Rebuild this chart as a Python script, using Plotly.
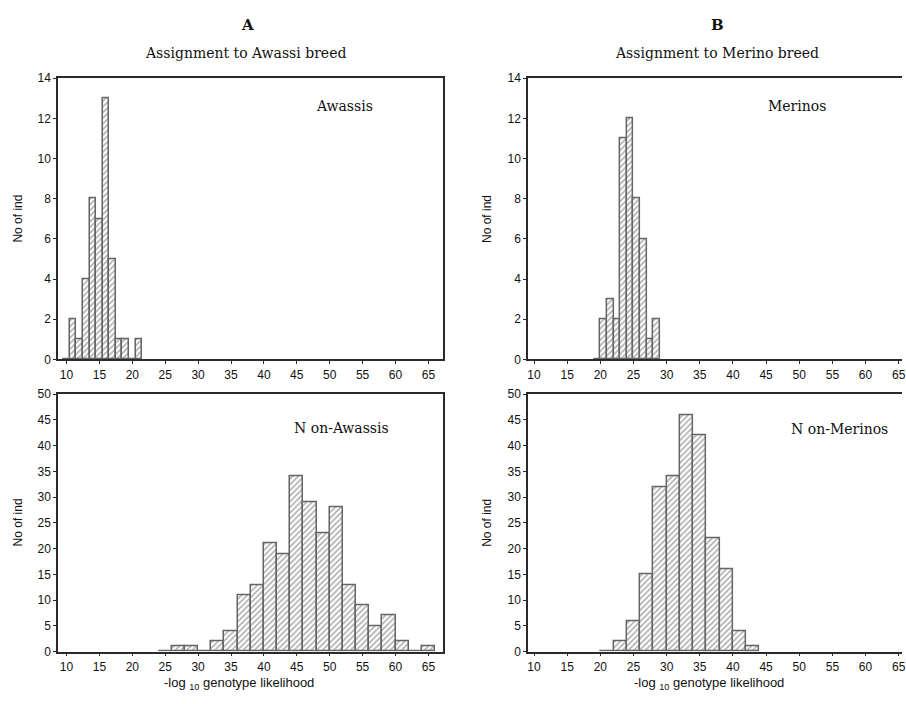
import plotly.graph_objects as go

# ---- data ----
awassi_bins = [10, 11, 12, 13, 14, 15, 16, 17, 18, 19, 20, 21]
awassi_counts = [0, 2, 1, 4, 8, 7, 13, 5, 1, 1, 0, 1]

merino_bins = [19.5, 20.5, 21.5, 22.5, 23.5, 24.5, 25.5, 26.5, 27.5, 28.5]
merino_counts = [0, 2, 3, 2, 11, 12, 8, 6, 1, 2]

non_awassi_bins = [25, 27, 29, 31, 33, 35, 37, 39, 41, 43, 45, 47, 49, 51, 53, 55, 57, 59, 61, 63, 65]
non_awassi_counts = [0, 1, 1, 0, 2, 4, 11, 13, 21, 19, 34, 29, 23, 28, 13, 9, 5, 7, 2, 0, 1]

non_merino_bins = [21, 23, 25, 27, 29, 31, 33, 35, 37, 39, 41, 43]
non_merino_counts = [0, 2, 6, 15, 32, 34, 46, 42, 22, 16, 4, 1]

x_ticks = [10, 15, 20, 25, 30, 35, 40, 45, 50, 55, 60, 65]
top_y_ticks = [0, 2, 4, 6, 8, 10, 12, 14]
bottom_y_ticks = [0, 5, 10, 15, 20, 25, 30, 35, 40, 45, 50]

W, H = 906, 704
FRAME = "#2a2a2a"
BAR_LINE = "#656565"
SANS = "Liberation Sans, Arial, sans-serif"
SERIF = "DejaVu Serif, serif"


def bar(x, y, width, xa, ya):
    return go.Bar(
        x=x, y=y, width=width, xaxis=xa, yaxis=ya,
        marker=dict(
            color="white",
            line=dict(color=BAR_LINE, width=1.5),
            pattern=dict(shape="/", fgcolor="#5a5a5a", bgcolor="white",
                         size=4, solidity=0.38),
        ),
        showlegend=False, hoverinfo="skip",
    )


fig = go.Figure()
fig.add_trace(bar(awassi_bins, awassi_counts, 1, "x", "y"))
fig.add_trace(bar(merino_bins, merino_counts, 1, "x2", "y2"))
fig.add_trace(bar(non_awassi_bins, non_awassi_counts, 2, "x3", "y3"))
fig.add_trace(bar(non_merino_bins, non_merino_counts, 2, "x4", "y4"))


def px_x(p):
    return p / W


def px_y(p):
    return 1 - p / H


left_dom = [px_x(57.3), px_x(444.3)]
right_dom = [px_x(530), 1.0]
top_dom = [px_y(359.5), px_y(72.7)]
bot_dom = [px_y(657.7), px_y(395)]

tickfont = dict(family=SANS, size=12, color="#111")


def xax(dom, rng, anchor, mirror):
    return dict(domain=dom, range=rng, anchor=anchor, tickvals=x_ticks,
                ticks="outside", ticklen=3, tickcolor=FRAME,
                showline=True, linecolor=FRAME, linewidth=1.5, mirror=mirror,
                showgrid=False, zeroline=False, tickfont=tickfont,
                ticklabeloverflow="allow", fixedrange=True)


def yax(dom, rng, vals, anchor, mirror):
    return dict(domain=dom, range=rng, anchor=anchor, tickvals=vals,
                ticks="outside", ticklen=3, tickcolor=FRAME,
                showline=True, linecolor=FRAME, linewidth=1.5, mirror=mirror,
                showgrid=False, zeroline=False, tickfont=tickfont,
                ticklabeloverflow="allow", fixedrange=True)


left_rng = [8.7, 67.2]
right_rng = [9.1, 65.5]

fig.update_layout(
    width=W, height=H,
    margin=dict(l=0, r=0, t=0, b=0),
    paper_bgcolor="white", plot_bgcolor="white",
    bargap=0,
    xaxis=xax(left_dom, left_rng, "y", True),
    yaxis=yax(top_dom, [0, 14], top_y_ticks, "x", True),
    xaxis2=xax(right_dom, right_rng, "y2", True),
    yaxis2=yax(top_dom, [0, 14], top_y_ticks, "x2", False),
    xaxis3=xax(left_dom, left_rng, "y3", True),
    yaxis3=yax(bot_dom, [0, 50], bottom_y_ticks, "x3", True),
    xaxis4=xax(right_dom, right_rng, "y4", True),
    yaxis4=yax(bot_dom, [0, 50], bottom_y_ticks, "x4", False),
)


def ann(text, x, y, size, family, bold=False, angle=0, color="#111"):
    if bold:
        text = "<b>" + text + "</b>"
    fig.add_annotation(text=text, x=px_x(x), y=px_y(y), xref="paper", yref="paper",
                       showarrow=False, xanchor="center", yanchor="middle",
                       textangle=angle,
                       font=dict(family=family, size=size, color=color))


ann("A", 248, 18, 15, SERIF, bold=True)
ann("B", 720, 18, 15, SERIF, bold=True)
ann("Assignment to Awassi breed", 246, 47, 14, SERIF)
ann("Assignment to Merino breed", 720, 47, 14, SERIF)
ann("Awassis", 345, 101, 14, SERIF)
ann("Merinos", 800, 101, 14, SERIF)
ann("N on-Awassis", 342, 430, 14, SERIF)
ann("N on-Merinos", 843, 431, 14, SERIF)

for x in (17, 488):
    ann("No of ind", x, 216, 12, SANS, angle=-90)
    ann("No of ind", x, 526, 12, SANS, angle=-90)

ann("-log <sub>10</sub> genotype likelihood", 239, 690, 13, SANS)
ann("-log <sub>10</sub> genotype likelihood", 712, 690, 13, SANS)

fig.write_html("out.html", config={"displayModeBar": False},
               post_script="document.body.style.margin='0';")
